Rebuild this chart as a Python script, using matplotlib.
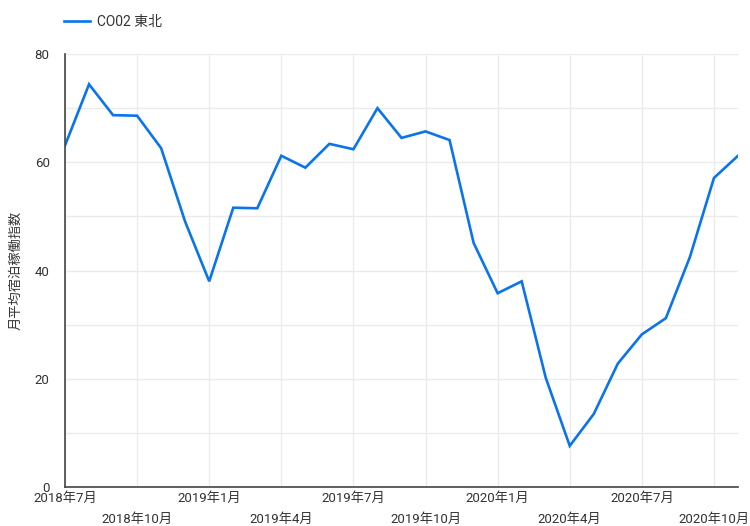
"""Monthly average occupancy index, Tohoku region."""

import matplotlib
import matplotlib.pyplot as plt
from matplotlib.ticker import MultipleLocator

matplotlib.use("Agg")

plt.rcParams["font.family"] = ["Roboto", "Noto Sans CJK JP", "DejaVu Sans"]

# Data
months = [
    "2018年7月", "2018年8月", "2018年9月", "2018年10月", "2018年11月", "2018年12月",
    "2019年1月", "2019年2月", "2019年3月", "2019年4月", "2019年5月", "2019年6月",
    "2019年7月", "2019年8月", "2019年9月", "2019年10月", "2019年11月", "2019年12月",
    "2020年1月", "2020年2月", "2020年3月", "2020年4月", "2020年5月", "2020年6月",
    "2020年7月", "2020年8月", "2020年9月", "2020年10月", "2020年11月",
]
values = [
    63.1, 74.4, 68.7, 68.6, 62.6, 49.0,
    38.0, 51.6, 51.5, 61.2, 59.0, 63.4,
    62.4, 70.0, 64.5, 65.7, 64.1, 45.1,
    35.8, 38.0, 20.2, 7.6, 13.5, 22.8,
    28.2, 31.2, 42.5, 57.1, 61.2,
]
series_name = "CO02 東北"
y_label = "月平均宿泊稼働指数"

LINE_COLOR = "#0a74ec"
TEXT_COLOR = "#333333"

fig = plt.figure(figsize=(7.5, 5.26), dpi=100)
ax = fig.add_axes([65 / 750, 39 / 526, 673 / 750, 433 / 526])

xs = list(range(len(months)))
ax.plot(xs, values, color=LINE_COLOR, linewidth=1.9, label=series_name,
        solid_joinstyle="miter")

ax.set_xlim(0, len(months) - 1)
ax.set_ylim(0, 80)

# Ticks every 3 months, labels staggered over two rows
tick_idx = xs[::3]
ax.set_xticks(tick_idx)
ax.set_xticklabels([months[i] for i in tick_idx], fontsize=9.5, color=TEXT_COLOR)
for n, tick in enumerate(ax.xaxis.get_major_ticks()):
    tick.set_pad(3.5 if n % 2 == 0 else 18.5)

ax.yaxis.set_major_locator(MultipleLocator(20))
ax.yaxis.set_minor_locator(MultipleLocator(10))
ax.tick_params(axis="y", which="both", length=0, pad=11, labelsize=9.5,
               labelcolor=TEXT_COLOR)
ax.tick_params(axis="x", length=0)

ax.grid(True, which="both", color="#ebebeb", linewidth=1.0)
ax.set_axisbelow(True)

for side in ("top", "right"):
    ax.spines[side].set_visible(False)
for side in ("left", "bottom"):
    ax.spines[side].set_color("#444444")
    ax.spines[side].set_linewidth(1.2)

ax.set_ylabel(y_label, fontsize=9.5, color=TEXT_COLOR, fontstyle="italic")
ax.yaxis.set_label_coords(-43 / 673, 0.5)

fig.legend(loc="center left", bbox_to_anchor=(64 / 750, 1 - 22 / 526),
           frameon=False, fontsize=10, handlelength=1.9, handletextpad=0.5,
           borderpad=0, borderaxespad=0, labelcolor=TEXT_COLOR)

fig.savefig("out.png", dpi=100)
plt.close(fig)
